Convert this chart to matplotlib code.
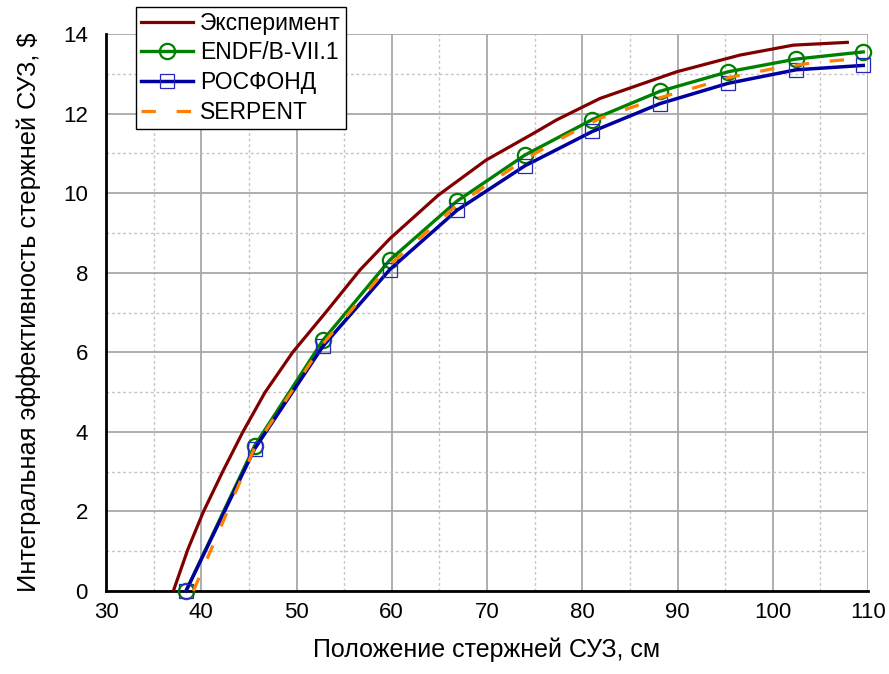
import numpy as np
import matplotlib
matplotlib.use('Agg')
import matplotlib.pyplot as plt
from matplotlib.ticker import MultipleLocator

matplotlib.rcParams.update({'font.family': ['Liberation Sans', 'DejaVu Sans'], 'font.size': 16})

# эксперимент
x_exp = [37.07, 38.6, 40.22, 42.25, 44.35, 46.69, 49.6, 53.06, 56.67, 59.82, 64.89, 69.9, 74.86, 77.3,
         81.86, 89.91, 96.56, 102.16, 107.83]
y_exp = [0.0, 1.05, 1.99, 3.0, 3.99, 4.99, 6.0, 7.0, 8.07, 8.86, 9.95, 10.83, 11.50, 11.84,
         12.38, 13.05, 13.47, 13.72, 13.79]

# расчетные точки (маркеры)
x_calc = [38.4, 45.6, 52.8, 59.8, 66.85, 74.0, 81.06, 88.16, 95.3, 102.44, 109.5]
y_endf = [0.0, 3.65, 6.31, 8.32, 9.80, 10.96, 11.85, 12.56, 13.05, 13.37, 13.55]
y_rosf = [0.0, 3.57, 6.16, 8.08, 9.57, 10.69, 11.55, 12.25, 12.76, 13.10, 13.21]

x_serp = [39.17, 45.6, 52.8, 59.8, 66.85, 74.0, 77.66, 81.86, 85.36, 88.2, 92.36, 95.3, 100.06,
          104.6, 108.46]
y_serp = [0.0, 3.6, 6.22, 8.2, 9.70, 10.85, 11.36, 11.88, 12.17, 12.40, 12.69, 12.90, 13.13,
          13.29, 13.37]

fig = plt.figure(figsize=(8.89, 6.74), dpi=100)
ax = fig.add_axes([106/889, 1 - 591/674, (868 - 106)/889, (591 - 34)/674])

ax.plot(x_exp, y_exp, color='#800000', lw=2.3, label='Эксперимент', zorder=3)
ax.plot(x_calc, y_endf, color='#008000', lw=2.4, marker='o', ms=11, mfc='none', mew=1.6,
        label='ENDF/B-VII.1', clip_on=False, zorder=4)
ax.plot(x_calc, y_rosf, color='#0000a0', lw=2.5, marker='s', ms=9.5, mfc='none', mew=0.9,
        mec='#2626b8', label='РОСФОНД', clip_on=False, zorder=5)
ax.plot(x_serp, y_serp, color='#ff8000', lw=2.3, ls=(0, (4.5, 6.5)), label='SERPENT', zorder=6)

ax.set_xlim(30, 110)
ax.set_ylim(0, 14)
ax.xaxis.set_major_locator(MultipleLocator(10))
ax.xaxis.set_minor_locator(MultipleLocator(5))
ax.yaxis.set_major_locator(MultipleLocator(2))
ax.yaxis.set_minor_locator(MultipleLocator(1))
ax.grid(which='major', color='#a8a8a8', lw=1.3, ls='-')
ax.grid(which='minor', color='#c4c4c4', lw=1.0, ls=(0, (2, 2)))
ax.set_axisbelow(True)
ax.tick_params(which='both', length=0, labelsize=16)
ax.tick_params(axis='y', pad=13)
ax.tick_params(axis='x', pad=8)

for s in ['top', 'right']:
    ax.spines[s].set_visible(False)
for s in ['left', 'bottom']:
    ax.spines[s].set_linewidth(2)
    ax.spines[s].set_color('black')

ax.set_xlabel('Положение стержней СУЗ, см', fontsize=18, labelpad=10)
ax.set_ylabel('Интегральная эффективность стержней СУЗ, $', fontsize=18.3, labelpad=16)

leg = ax.legend(loc='upper left', bbox_to_anchor=(136/889, 1 - 7/674), bbox_transform=fig.transFigure,
                fontsize=16.5, frameon=True, fancybox=False, framealpha=1, edgecolor='black',
                handlelength=2.3, handletextpad=0.3, borderpad=0.2, labelspacing=0.3, borderaxespad=0)
leg.get_frame().set_linewidth(1.0)
leg.set_zorder(10)

fig.savefig('out.png', dpi=100)
